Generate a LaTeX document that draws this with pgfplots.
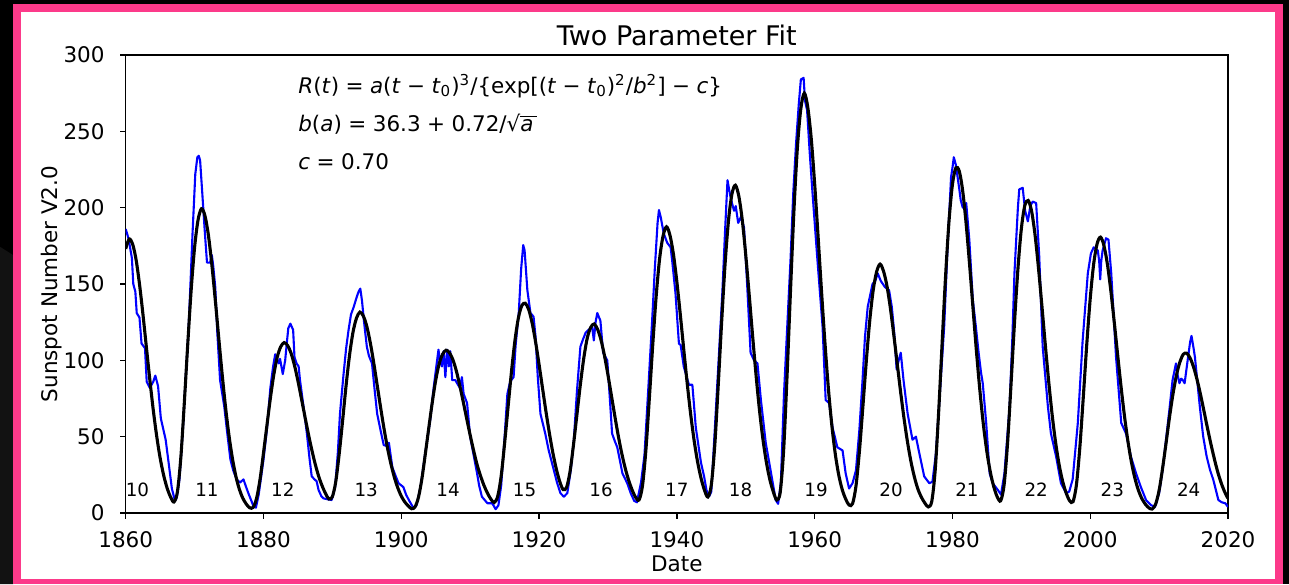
\documentclass[border=0pt]{standalone}
\usepackage{fontspec}
\setmainfont{DejaVu Sans}
\usepackage{pgfplots}
\pgfplotsset{compat=1.18}
\definecolor{framepink}{RGB}{252,58,138}
\definecolor{outergray}{RGB}{18,18,18}
\newcommand{\vi}[1]{\textit{#1}}
\newcommand{\op}[1]{\hspace{0.3em}#1\hspace{0.3em}}
\begin{document}
\begin{tikzpicture}
% background and frame
\fill[black] (0pt,0pt) rectangle (644.5pt,292pt);
\fill[outergray] (0pt,0pt) -- (0pt,168.6pt) -- (6.5pt,164.5pt) -- (6.5pt,0pt) -- cycle;
\fill[framepink] (6.5pt,0pt) rectangle (641.5pt,290pt);
\fill[white] (10.5pt,2.5pt) rectangle (637.5pt,286pt);
\begin{axis}[
  at={(62.85pt,35.5pt)}, anchor=south west,
  scale only axis, width=551.15pt, height=229pt,
  xmin=1860, xmax=2020, ymin=0, ymax=300,
  xtick={1860,1880,...,2020}, ytick={0,50,...,300},
  tick align=outside, major tick length=2.85pt, tick pos=left,
  axis line style={line width=0.65pt},
  every tick/.style={black, line width=0.65pt},
  scaled ticks=false,
  /pgf/number format/1000 sep={},
  /pgf/number format/assume math mode=true,
  tick label style={font=\fontsize{10.75}{12}\selectfont},
  xticklabel style={anchor=base, yshift=-14.35pt},
  yticklabel style={anchor=east, inner sep=0pt, xshift=-7.5pt},
]
\addplot[blue, line width=1.05pt, line join=round] coordinates {
(1860.0,186)(1860.4,180)(1860.9,167)(1861.1,150)(1861.4,145)(1861.6,131)(1862.0,128)(1862.3,111)(1862.8,108)(1863.05,86)(1863.5,82)(1864.0,86)(1864.3,90)(1864.7,83)(1865.1,62)(1865.5,54)(1865.8,48)(1866.2,34)(1866.7,16)(1867.15,8)(1867.4,10)
(1867.8,22)(1868.3,55)(1868.7,88)(1869.1,118)(1869.4,150)(1869.7,183)(1870.1,222)(1870.4,233)(1870.6,234)(1870.8,231)(1871.05,214)(1871.5,183)(1871.8,164)(1872.25,164)(1872.5,169)(1872.7,162)(1873.0,148)(1873.3,118)(1873.7,87)(1874.3,70)(1874.8,50)(1875.2,35)(1875.6,28)(1876.1,22)(1876.6,20)(1877.1,22)(1877.4,18)(1877.8,13)(1878.5,5)(1878.9,3.5)
(1879.3,12)(1880.0,35)(1880.5,55)(1881.0,82)(1881.4,96)(1881.7,104)(1882.0,100)(1882.2,98)(1882.4,101)(1882.6,96)(1882.8,91)(1883.15,100)(1883.4,112)(1883.6,121)(1883.9,124)(1884.3,120)(1884.5,102)(1884.8,98)(1885.1,96)(1885.3,87)(1885.8,70)(1886.3,52)(1886.7,35)(1887.0,24)(1887.5,21.6)(1887.7,21)(1888.0,15)(1888.4,11)(1888.7,9.6)(1889.3,9)(1889.9,8.5)
(1890.4,17)(1890.8,40)(1891.1,65)(1891.6,90)(1892.0,108)(1892.35,120)(1892.7,130)(1893.1,135)(1893.5,141)(1893.8,145)(1894.05,147)(1894.3,139)(1894.6,125)(1895.0,109)(1895.3,103)(1895.75,98)(1896.1,82)(1896.5,65)(1897.0,54)(1897.45,44.5)(1897.8,44)(1898.2,46)(1898.7,30)(1899.2,24)(1899.6,19.5)(1900.3,17)(1900.7,12)(1901.1,8.5)(1901.8,3)(1902.2,5)
(1902.8,17)(1903.5,40)(1904.2,61)(1904.7,82)(1905.2,100)(1905.4,107)(1905.6,100)(1905.9,96)(1906.15,106)(1906.4,89)(1906.65,107)(1906.9,96)(1907.1,106)(1907.4,87)(1907.85,87)(1908.1,85)(1908.5,82)(1908.8,89)(1909.05,78)(1909.55,72)(1910.0,50)(1910.5,38)(1911.0,26)(1911.3,18)(1911.7,10.7)(1912.5,6.4)(1913.2,6.4)(1913.7,2.5)(1914.1,5)
(1914.5,18)(1915.0,50)(1915.4,78)(1915.8,86)(1916.3,89)(1916.6,110)(1917.05,131)(1917.4,160)(1917.7,175.5)(1917.9,172)(1918.3,146)(1918.75,131)(1919.2,128.6)(1919.5,115)(1919.8,90)(1920.2,65)(1920.9,52)(1921.4,41)(1922.15,28)(1922.6,20)(1923.1,13)(1923.6,10.7)(1924.1,13)
(1924.6,28)(1925.05,48)(1925.5,80)(1926.0,109)(1926.4,114)(1926.75,118)(1927.2,120)(1927.7,122)(1927.95,113)(1928.2,125)(1928.45,131)(1928.9,126)(1929.3,105)(1929.9,100)(1930.2,80)(1930.6,52)(1931.0,47)(1931.35,43)(1932.1,26)(1932.8,19.5)(1933.3,13)(1933.8,8)(1934.2,7)
(1934.8,20)(1935.3,38)(1935.9,85)(1936.4,125)(1936.8,160)(1937.2,190)(1937.4,198.5)(1937.65,194)(1938.1,183)(1938.6,177)(1939.1,174)(1939.35,164)(1939.8,144)(1940.3,111)(1940.55,110)(1941.0,96)(1941.75,84)(1942.25,84)(1942.75,56)(1943.5,33)(1943.95,24)(1944.3,15)(1944.7,11)(1945.0,14)
(1945.4,46)(1946.0,95)(1946.6,144)(1947.0,185)(1947.35,218)(1947.7,209)(1948.0,203)(1948.3,198)(1948.55,201)(1948.9,190)(1949.3,194)(1949.75,187)(1950.2,150)(1950.7,105)(1951.2,100)(1951.7,98)(1952.2,74)(1952.9,46)(1953.6,28)(1954.35,8.5)(1954.7,6)(1955.1,20)
(1955.55,78)(1956.0,120)(1956.5,166)(1956.9,210)(1957.3,242)(1957.7,268)(1958.0,284)(1958.4,285)(1958.6,270)(1958.9,264)(1959.3,235)(1959.7,209)(1960.4,166)(1961.15,122)(1961.6,74)(1962.1,72)(1962.6,56)(1963.3,43)(1964.05,41)(1964.5,26)(1965.0,16)(1965.5,19.5)(1966.0,28)
(1966.5,55)(1966.95,87)(1967.3,115)(1967.7,135)(1968.4,150)(1968.8,152)(1969.15,157)(1969.6,152)(1970.2,148)(1970.8,146)(1971.2,135)(1971.55,118)(1971.9,94)(1972.2,100)(1972.5,105)(1972.9,87)(1973.5,65)(1974.2,48)(1974.7,50)(1975.2,39)(1975.9,24)(1976.65,19.5)(1977.1,20.5)(1977.6,39)
(1978.2,80)(1978.8,122)(1979.3,175)(1979.8,220)(1980.0,226)(1980.2,233)(1980.5,228)(1980.75,220)(1981.0,212)(1981.2,205)(1981.5,200)(1982.0,203)(1982.45,179)(1982.95,140)(1983.4,122)(1983.8,105)(1984.15,92)(1984.4,85)(1984.9,59)(1985.4,26)(1985.85,19.5)(1986.6,15)(1987.05,12)(1987.55,26)
(1988.3,70)(1988.7,115)(1989.0,157)(1989.5,200)(1989.7,212)(1990.2,213)(1990.55,198)(1990.95,191)(1991.3,201)(1991.65,204)(1992.15,203)(1992.6,168)(1993.1,109)(1993.85,70)(1994.3,52)(1995.05,37)(1995.75,19.5)(1996.5,13)(1996.95,14)(1997.45,22)
(1998.2,59)(1998.9,113)(1999.65,157)(2000.1,170)(2000.5,174)(2001.1,172)(2001.3,165)(2001.45,153)(2001.6,165)(2001.8,172)(2002.3,180)(2002.65,179)(2003.05,157)(2003.75,102)(2004.5,59)(2005.2,52)(2005.9,37)(2006.65,26)(2007.35,17)(2008.1,8.5)(2008.8,5.2)(2009.4,4)
(2010.0,13)(2010.5,28)(2011.0,48)(2011.5,68)(2011.95,87)(2012.45,98)(2012.7,90)(2012.95,85)(2013.2,88)(2013.45,87)(2013.7,85)(2014.2,102)(2014.5,112)(2014.7,116)(2015.0,108)(2015.2,102)(2015.9,70)(2016.4,50)(2016.9,37)(2017.4,28)(2017.85,22)(2018.6,8.5)(2019.1,7)(2019.6,6.4)(2020.0,4)
};
\addplot[black, line width=1.55pt, smooth] coordinates {
(1860.0,173)(1860.5,179.5)(1861,176.2)(1861.5,166.1)(1862,150.0)(1862.5,130.3)(1863,108.7)(1863.5,87.4)(1864,67.5)(1864.5,50.3)(1865,36.0)(1865.5,24.9)(1866,16.5)(1866.5,10.6)(1867,7.2)(1867.5,13.7)(1868,36.2)(1868.5,71.6)(1869,110.1)(1869.5,145.9)(1870,174.0)(1870.5,191.9)(1871,199.3)(1871.5,194.8)(1872,182.1)(1872.5,162.8)(1873,139.6)(1873.5,114.9)(1874,90.9)(1874.5,69.0)(1875,50.5)(1875.5,35.5)(1876,23.9)(1876.5,15.5)(1877,9.7)(1877.5,5.9)(1878,3.4)(1878.5,3.7)(1879,9.7)(1879.5,22.1)(1880,39.3)(1880.5,57.4)(1881,75.2)(1881.5,90.7)(1882,102.2)(1882.5,108.9)(1883,111.6)(1883.5,109.7)(1884,104.7)(1884.5,96.7)(1885,86.5)(1885.5,75.1)(1886,63.5)(1886.5,52.1)(1887,41.6)(1887.5,32.2)(1888,24.2)(1888.5,17.9)(1889,12.8)(1889.5,9.2)(1890,10.7)(1890.5,20.8)(1891,39.2)(1891.5,61.2)(1892,84.0)(1892.5,103.7)(1893,118.6)(1893.5,127.7)(1894,131.6)(1894.5,129.0)(1895,122.2)(1895.5,111.6)(1896,98.4)(1896.5,83.8)(1897,69.1)(1897.5,55.1)(1898,42.6)(1898.5,32.1)(1899,23.3)(1899.5,16.4)(1900,11.1)(1900.5,7.3)(1901,4.7)(1901.5,2.8)(1902,4.0)(1902.5,10.4)(1903,22.6)(1903.5,39.0)(1904,56.0)(1904.5,72.5)(1905,87.0)(1905.5,97.8)(1906,104.0)(1906.5,106.6)(1907,104.9)(1907.5,100.3)(1908,92.9)(1908.5,83.3)(1909,72.7)(1909.5,61.7)(1910,51.0)(1910.5,40.9)(1911,31.7)(1911.5,24.4)(1912,18.1)(1912.5,13.1)(1913,9.1)(1913.5,6.9)(1914,11.0)(1914.5,24.2)(1915,45.7)(1915.5,69.4)(1916,92.8)(1916.5,113.0)(1917,127.8)(1917.5,135.9)(1918,137.4)(1918.5,133.2)(1919,124.3)(1919.5,111.9)(1920,97.3)(1920.5,81.8)(1921,66.5)(1921.5,52.2)(1922,39.5)(1922.5,28.9)(1923,20.6)(1923.5,15.3)(1924,16.9)(1924.5,27.3)(1925,44.8)(1925.5,64.6)(1926,84.4)(1926.5,101.7)(1927,114.7)(1927.5,121.6)(1928,123.8)(1928.5,120.3)(1929,113.2)(1929.5,102.9)(1930,90.4)(1930.5,77.0)(1931,63.4)(1931.5,50.5)(1932,39.1)(1932.5,29.4)(1933,21.5)(1933.5,15.2)(1934,10.4)(1934.5,8.5)(1935,17.5)(1935.5,40.9)(1936,74.6)(1936.5,110.1)(1937,142.2)(1937.5,166.7)(1938,181.5)(1938.5,187.5)(1939,181.9)(1939.5,169.6)(1940,151.5)(1940.5,130.0)(1941,107.2)(1941.5,85.0)(1942,64.9)(1942.5,47.7)(1943,33.7)(1943.5,23.0)(1944,15.1)(1944.5,10.5)(1945,18.4)(1945.5,44.0)(1946,83.2)(1946.5,125.0)(1947,163.1)(1947.5,191.8)(1948,209.1)(1948.5,214.7)(1949,207.4)(1949.5,191.6)(1950,169.0)(1950.5,142.9)(1951,115.8)(1951.5,90.0)(1952,67.1)(1952.5,48.1)(1953,33.1)(1953.5,21.8)(1954,13.9)(1954.5,8.5)(1955,13.5)(1955.5,41.3)(1956,90.4)(1956.5,146.1)(1957,198.6)(1957.5,239.6)(1958,265.0)(1958.5,275.0)(1959,265.9)(1959.5,245.5)(1960,215.7)(1960.5,181.1)(1961,145.1)(1961.5,111.2)(1962,81.3)(1962.5,57.2)(1963,38.5)(1963.5,24.8)(1964,15.4)(1964.5,9.2)(1965,5.2)(1965.5,6.1)(1966,17.7)(1966.5,40.5)(1967,69.6)(1967.5,99.6)(1968,126.1)(1968.5,146.0)(1969,158.1)(1969.5,163.0)(1970,158.4)(1970.5,148.6)(1971,133.9)(1971.5,116.2)(1972,97.3)(1972.5,78.5)(1973,61.1)(1973.5,45.9)(1974,33.2)(1974.5,23.2)(1975,15.5)(1975.5,10.3)(1976,6.5)(1976.5,4.0)(1977,7.6)(1977.5,28.1)(1978,66.2)(1978.5,111.0)(1979,154.8)(1979.5,191.0)(1980,215.2)(1980.5,226.1)(1981,223.8)(1981.5,210.6)(1982,188.9)(1982.5,162.1)(1983,133.3)(1983.5,105.1)(1984,79.5)(1984.5,57.6)(1985,40.1)(1985.5,26.8)(1986,17.2)(1986.5,10.6)(1987,8.0)(1987.5,18.5)(1988,45.6)(1988.5,83.9)(1989,124.1)(1989.5,159.5)(1990,186.1)(1990.5,201.3)(1991,204.7)(1991.5,197.5)(1992,181.8)(1992.5,159.9)(1993,135.0)(1993.5,109.2)(1994,84.9)(1994.5,63.3)(1995,45.4)(1995.5,31.3)(1996,20.7)(1996.5,13.2)(1997,8.1)(1997.5,7.4)(1998,18.6)(1998.5,43.4)(1999,76.3)(1999.5,110.6)(2000,140.5)(2000.5,163.1)(2001,176.4)(2001.5,180.7)(2002,175.0)(2002.5,162.8)(2003,145.2)(2003.5,124.5)(2004,102.8)(2004.5,81.7)(2005,62.5)(2005.5,46.2)(2006,32.8)(2006.5,22.5)(2007,14.8)(2007.5,9.4)(2008,5.8)(2008.5,3.4)(2009,2.6)(2009.5,5.9)(2010,14.9)(2010.5,29.2)(2011,45.5)(2011.5,62.5)(2012,77.6)(2012.5,89.9)(2013,98.7)(2013.5,103.9)(2014,104.7)(2014.5,101.5)(2015,95.6)(2015.5,87.5)(2016,77.8)(2016.5,67.0)(2017,56.0)(2017.5,45.5)(2018,35.8)(2018.5,27.0)(2019,19.8)(2019.5,14.0)(2020,9.5)
};
% formula annotations
\node[anchor=base west, inner sep=0pt, font=\fontsize{10.75}{12}\selectfont] at (axis cs:1885,275)
  {\vi{R}(\vi{t})\op{=}\vi{a}(\vi{t}\op{−}\vi{t}\textsubscript{0})\textsuperscript{3}/\{exp[(\vi{t}\op{−}\vi{t}\textsubscript{0})\textsuperscript{2}/\vi{b}\textsuperscript{2}]\op{−}\vi{c}\}};
\node[anchor=base west, inner sep=0pt, font=\fontsize{10.75}{12}\selectfont] at (axis cs:1885,250)
  {\vi{b}(\vi{a})\op{=}36.3\op{+}0.72/√\(\overline{\mbox{\vi{a}\,}}\)};
\node[anchor=base west, inner sep=0pt, font=\fontsize{10.75}{12}\selectfont] at (axis cs:1885,225)
  {\vi{c}\op{=}0.70};
% cycle numbers
\foreach \xx/\lab in {1861.7/10,1871.8/11,1882.8/12,1894.9/13,1906.8/14,1917.9/15,1929.0/16,1940.0/17,1949.25/18,1960.2/19,1971.1/20,1982.1/21,1992.15/22,2003.2/23,2014.3/24}{
  \edef\temp{\noexpand\node[anchor=base, inner sep=0pt, font=\noexpand\fontsize{9.15}{11}\noexpand\selectfont] at (axis cs:\xx,10.7) {\lab};}
  \temp
}
\end{axis}
% title and axis labels
\node[anchor=base, inner sep=0pt, font=\fontsize{13.5}{16}\selectfont] at (338.4pt,269.15pt) {Two Parameter Fit};
\node[anchor=base, inner sep=0pt, font=\fontsize{10.75}{12}\selectfont] at (338.4pt,6.5pt) {Date};
\node[anchor=base, rotate=90, inner sep=0pt, font=\fontsize{10.75}{12}\selectfont] at (28.5pt,150pt) {Sunspot Number V2.0};
\end{tikzpicture}
\end{document}
